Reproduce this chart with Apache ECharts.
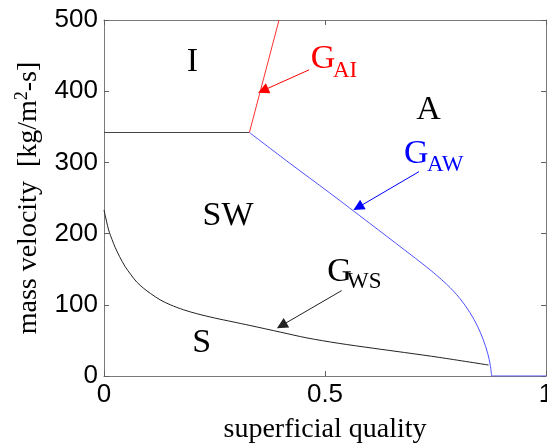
<!DOCTYPE html>
<html>
<head>
<meta charset="utf-8">
<script src="https://cdn.jsdelivr.net/npm/echarts@6/dist/echarts.min.js"></script>
<style>html,body{margin:0;padding:0;background:#fff}#c{width:547px;height:444px}</style>
</head>
<body>
<div id="c"></div>
<script>
// ---- data (superficial quality x, mass velocity y) ----
var xTicks = [0, 0.5, 1];
var yTicks = [0, 100, 200, 300, 400, 500];
var boundaryIW = [[0, 342], [0.329, 342]];
var boundaryAI = [[0.329, 342], [0.396, 500]];
var boundaryAW = [[0.329, 342], [0.42, 299], [0.511, 257], [0.6, 215], [0.68, 177], [0.73, 153], [0.775, 129], [0.805, 109], [0.828, 89], [0.845, 70], [0.858, 51], [0.868, 32], [0.874, 15], [0.877, 0]];
var boundaryA0 = [[0.877, 0], [1, 0]];
var boundaryWS = [[0, 233], [0.004, 222], [0.008, 211], [0.012, 202], [0.018, 192], [0.025, 181], [0.035, 168], [0.0475, 154], [0.06, 143], [0.074, 132], [0.09, 123], [0.105, 116], [0.127, 107], [0.15, 100], [0.18, 93], [0.21, 87.5], [0.25, 81.5], [0.292, 76], [0.33, 71], [0.4, 61.5], [0.459, 53.5], [0.53, 46], [0.609, 39], [0.68, 33], [0.76, 26], [0.87, 15.4]];
var regionNames = ['I', 'A', 'SW', 'S'];
var regionAt = [[0.2, 441], [0.734, 374], [0.2805, 224], [0.221, 46]];
var boundaryNames = [['G', 'AI'], ['G', 'AW'], ['G', 'WS']];
var boundaryNameAt = [[0.468, 445, 0.518, 428], [0.6787, 312, 0.7308, 297], [0.5052, 146, 0.5498, 132]];
var arrowFrom = [[0.464, 430], [0.7127, 287], [0.5378, 120]];
var arrowTo = [[0.36, 401], [0.575, 237], [0.402, 71]];
var arrowColors = ['#ff0000', '#0000ff', '#222222'];

var serif = 'Liberation Serif';
var sans = 'Liberation Sans';
var chart = echarts.init(document.getElementById('c'));

function arrowLines(i) {
  return [[{coord: arrowFrom[i], symbol: 'none'}, {coord: arrowTo[i], symbol: 'triangle'}]];
}

var boxAxis = {
  axisLine: {show: true, onZero: false, lineStyle: {color: '#7a7a7a', width: 1}},
  axisTick: {show: true, inside: true, length: 5, lineStyle: {color: '#606060'}},
  splitLine: {show: false}
};

var option = {
  animation: false,
  backgroundColor: '#fff',
  grid: {left: 104, right: 1, top: 20, bottom: 68, containLabel: false, outerBoundsMode: 'none'},
  xAxis: [
    Object.assign({
      type: 'value', min: xTicks[0], max: xTicks[xTicks.length - 1], interval: xTicks[1] - xTicks[0],
      position: 'bottom',
      name: 'superficial quality', nameLocation: 'middle', nameGap: 40,
      nameTextStyle: {fontFamily: serif, fontSize: 28, color: '#000'},
      axisLabel: {fontFamily: sans, fontSize: 26, color: '#000', margin: 6}
    }, boxAxis),
    Object.assign({
      type: 'value', min: xTicks[0], max: xTicks[xTicks.length - 1], interval: xTicks[1] - xTicks[0],
      position: 'top', axisLabel: {show: false}
    }, boxAxis)
  ],
  yAxis: [
    Object.assign({
      type: 'value', min: yTicks[0], max: yTicks[yTicks.length - 1], interval: yTicks[1] - yTicks[0],
      position: 'left',
      name: 'mass velocity  [kg/m{sup|2}-s]', nameLocation: 'middle', nameGap: 60,
      nameTextStyle: {fontFamily: serif, fontSize: 28, color: '#000', lineHeight: 30,
        rich: {sup: {fontFamily: serif, fontSize: 18, color: '#000', verticalAlign: 'top', lineHeight: 18}}},
      axisLabel: {fontFamily: sans, fontSize: 26, color: '#000', margin: 6}
    }, boxAxis),
    Object.assign({
      type: 'value', min: yTicks[0], max: yTicks[yTicks.length - 1], interval: yTicks[1] - yTicks[0],
      position: 'right', axisLabel: {show: false}
    }, boxAxis)
  ],
  series: [
    {type: 'line', data: boundaryIW, showSymbol: false, lineStyle: {color: '#444', width: 1}, z: 3},
    {type: 'line', data: boundaryAI, showSymbol: false, lineStyle: {color: '#ff3030', width: 1}, z: 3,
      markLine: {silent: true, symbolSize: 11, label: {show: false}, lineStyle: {color: arrowColors[0], width: 1, type: 'solid'}, data: arrowLines(0)}},
    {type: 'line', data: boundaryAW, showSymbol: false, smooth: 0.35, lineStyle: {color: '#5050ff', width: 1}, z: 3,
      markLine: {silent: true, symbolSize: 11, label: {show: false}, lineStyle: {color: arrowColors[1], width: 1, type: 'solid'}, data: arrowLines(1)}},
    {type: 'line', data: boundaryA0, showSymbol: false, lineStyle: {color: '#5050ff', width: 1}, z: 3},
    {type: 'line', data: boundaryWS, showSymbol: false, smooth: 0.3, lineStyle: {color: '#222', width: 1}, z: 3,
      markLine: {silent: true, symbolSize: 11, label: {show: false}, lineStyle: {color: arrowColors[2], width: 1, type: 'solid'}, data: arrowLines(2)}}
  ]
};
chart.setOption(option);

// annotations placed through the chart's own coordinate conversion
var g = [];
regionNames.forEach(function (t, i) {
  var p = chart.convertToPixel({gridIndex: 0}, regionAt[i]);
  g.push({type: 'text', x: p[0], y: p[1], silent: true,
    style: {text: t, fontFamily: serif, fontSize: 34, fill: '#000', align: 'center', verticalAlign: 'middle'}});
});
boundaryNames.forEach(function (nm, i) {
  var a = boundaryNameAt[i];
  var p1 = chart.convertToPixel({gridIndex: 0}, [a[0], a[1]]);
  var p2 = chart.convertToPixel({gridIndex: 0}, [a[2], a[3]]);
  var col = i === 2 ? '#000' : arrowColors[i];
  g.push({type: 'text', x: p1[0], y: p1[1], silent: true,
    style: {text: nm[0], fontFamily: serif, fontSize: 34, fill: col, align: 'left', verticalAlign: 'middle'}});
  g.push({type: 'text', x: p2[0], y: p2[1], silent: true,
    style: {text: nm[1], fontFamily: serif, fontSize: 23, fill: col, align: 'left', verticalAlign: 'middle'}});
});
chart.setOption({graphic: g});
</script>
</body>
</html>
